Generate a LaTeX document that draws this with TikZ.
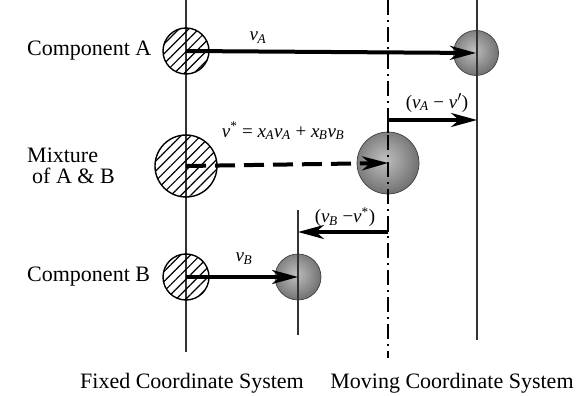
\documentclass[tikz,border=0pt]{standalone}
\usepackage{fontspec}
\setmainfont{Liberation Serif}
\usetikzlibrary{arrows.meta,patterns.meta}
\pgfdeclareradialshading{greyball}{\pgfpoint{-3bp}{3bp}}{color(0bp)=(black!25); color(18bp)=(black!45); color(36bp)=(black!66); color(50bp)=(black!78); color(100bp)=(black!78)}
\newcommand{\iv}{\textit{v}}
\newcommand{\ix}{\textit{x}}
\newcommand{\sbs}[1]{\textsubscript{\kern-0.5pt\textit{#1}}}
\begin{document}
\begin{tikzpicture}[x=1pt,y=-1pt,
  hatch/.style={circle,draw,line width=1.4pt,inner sep=0pt,minimum size=#1,
    pattern={Lines[angle=45,distance=7pt,line width=1.2pt]}},
  ball/.style={circle,inner sep=0pt,minimum size=#1,shading=greyball,
    draw=black!75,line width=0.7pt},
  axis/.style={line width=1.3pt,draw=black!80},
  vec/.style={line width=4pt,-{Stealth[length=26pt,width=14pt,inset=8pt]}},
  lbl/.style={font=\rmfamily\fontsize{22}{21}\selectfont,align=left,inner sep=0pt},
  mlbl/.style={font=\rmfamily\fontsize{19}{21}\selectfont,inner sep=0pt}
]
\useasboundingbox (0,0) rectangle (579,396);

% balls first (lines drawn over them)
\node[ball=45] (bA) at (476,53) {};
\node[ball=62] (bM) at (388,163) {};
\node[ball=46] (bB) at (298,277) {};

% coordinate system lines
\coordinate (F1) at (186,0);   \coordinate (F2) at (186,352);
\coordinate (M1) at (388,0);   \coordinate (M2) at (388,358);
\coordinate (R1) at (477,0);   \coordinate (R2) at (477,340);
\coordinate (B1) at (298,210); \coordinate (B2) at (298,335);
\draw[axis] (F1) -- (F2);
\draw[axis] (R1) -- (R2);
\draw[axis] (B1) -- (B2);
\draw[line width=1.5pt,dash pattern=on 15pt off 5pt on 2pt off 5pt] (M1) -- (M2);

% hatched circles
\node[hatch=46] (hA) at (186,51) {};
\node[hatch=62] (hM) at (186,166) {};
\node[hatch=46] (hB) at (186,277) {};

% velocity arrows
\draw[vec] (hA.center) -- (bA.center);
\draw[vec,dash pattern=on 20pt off 9pt] (hM.center) -- (bM.center);
\draw[vec] (hB.center) -- (bB.center);

% relative velocity arrows
\coordinate (mA) at (388,120);
\coordinate (mAt) at (388,133);
\coordinate (mB) at (388,232);
\coordinate (mBt) at (388,220);
\draw[line width=1.6pt] (mAt) -- (mA);
\draw[vec,line width=3.5pt] (mA) -- (mA -| R1);
\draw[line width=1.6pt] (mBt) -- (mB);
\draw[vec,line width=3.5pt] (mB) -- (mB -| B1);

% math labels
\node[mlbl] (lvA) at (258,38) {\iv\sbs{A}};
\node[mlbl] (lvB) at (244,259) {\iv\sbs{B}};
\node[mlbl] (lvs) at (283,131) {\iv\textsuperscript{*} = \ix\sbs{A}\iv\sbs{A} + \ix\sbs{B}\iv\sbs{B}};
\node[mlbl] (lrA) at (437,103) {(\iv\sbs{A} − \iv$'$)};
\node[mlbl] (lrB) at (345,217) {(\iv\sbs{B} −\iv\textsuperscript{*})};

% text labels
\node[lbl,anchor=west] (cA) at (27,51) {Component A};
\node[lbl,anchor=west] (mix) at (27,166) {Mixture\\\hspace*{5pt}of A \& B};
\node[lbl,anchor=west] (cB) at (27,277) {Component B};
\node[lbl] (fcs) at (192,383) {Fixed Coordinate System};
\node[lbl] (mcs) at (452,383) {Moving Coordinate System};
\end{tikzpicture}
\end{document}
